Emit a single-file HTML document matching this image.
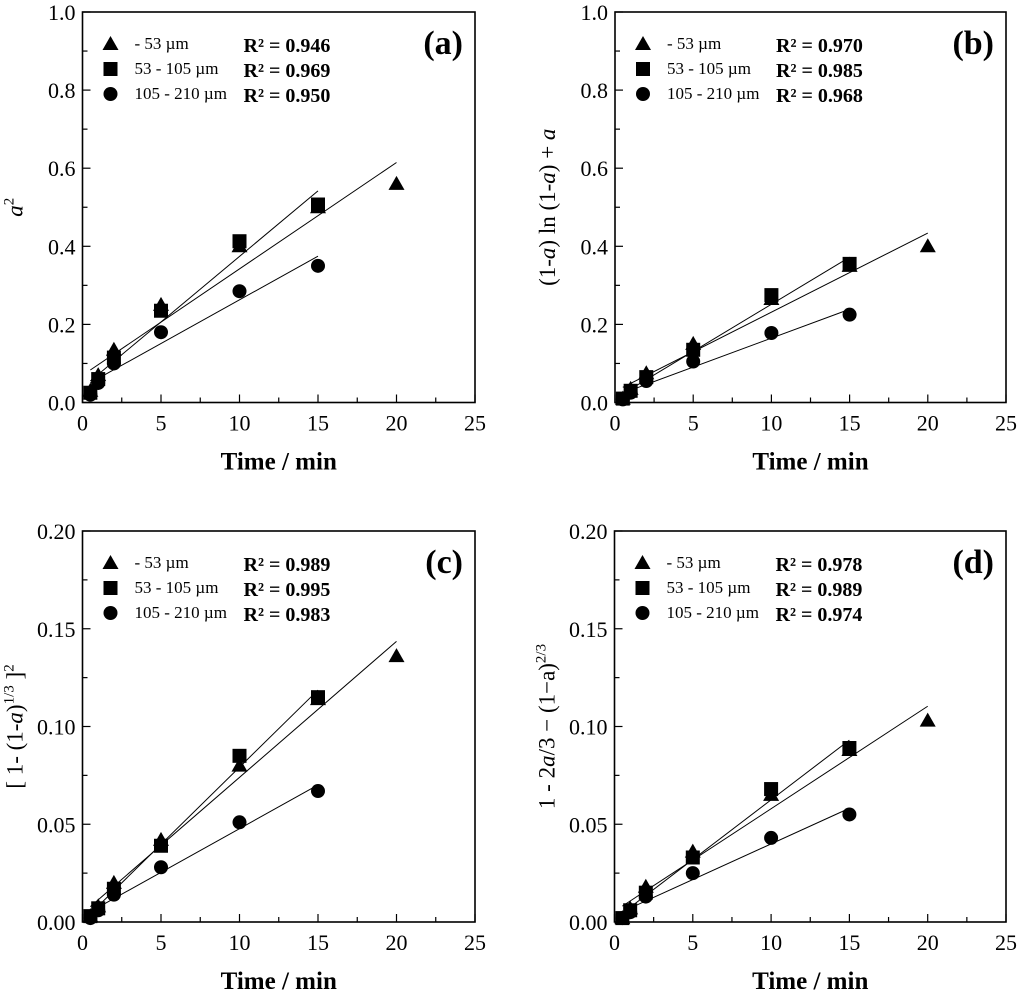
<!DOCTYPE html>
<html><head><meta charset="utf-8"><style>
body{margin:0;background:#fff}
svg{display:block;font-family:"Liberation Serif",serif}
</style></head><body>
<svg id="fig" width="1024" height="993" viewBox="0 0 1024 993"></svg>
<script>
const times=[0.5,1,2,5,10,15,20];
const timesB=[0.5,1,2,5,10,15];
const seriesNames=["- 53 \u00b5m","53 - 105 \u00b5m","105 - 210 \u00b5m"];
const xTicks=[0,5,10,15,20,25];
// panel a
const aTri=[0.03,0.07,0.135,0.25,0.40,0.50,0.56];
const aSq=[0.025,0.06,0.115,0.235,0.413,0.507];
const aCir=[0.02,0.05,0.10,0.18,0.285,0.35];
const aR2=["0.946","0.969","0.950"];
const aYTicks=["0.0","0.2","0.4","0.6","0.8","1.0"];
// panel b
const bTri=[0.01,0.035,0.075,0.15,0.265,0.35,0.40];
const bSq=[0.01,0.03,0.065,0.135,0.275,0.355];
const bCir=[0.008,0.025,0.055,0.105,0.178,0.225];
const bR2=["0.970","0.985","0.968"];
const bYTicks=["0.0","0.2","0.4","0.6","0.8","1.0"];
// panel c
const cTri=[0.003,0.008,0.02,0.042,0.08,0.114,0.136];
const cSq=[0.003,0.007,0.017,0.039,0.085,0.115];
const cCir=[0.002,0.006,0.014,0.028,0.051,0.067];
const cR2=["0.989","0.995","0.983"];
const cYTicks=["0.00","0.05","0.10","0.15","0.20"];
// panel d
const dTri=[0.002,0.007,0.018,0.036,0.065,0.088,0.103];
const dSq=[0.002,0.006,0.015,0.033,0.068,0.089];
const dCir=[0.002,0.005,0.013,0.025,0.043,0.055];
const dR2=["0.978","0.989","0.974"];
const dYTicks=["0.00","0.05","0.10","0.15","0.20"];

const NS="http://www.w3.org/2000/svg";
const svg=document.getElementById('fig');
function mk(tag,attrs,parent){const e=document.createElementNS(NS,tag);for(const k in attrs)e.setAttribute(k,attrs[k]);(parent||svg).appendChild(e);return e;}

function fit(xs,ys){const n=ys.length;let sx=0,sy=0,sxx=0,sxy=0;for(let i=0;i<n;i++){sx+=xs[i];sy+=ys[i];sxx+=xs[i]*xs[i];sxy+=xs[i]*ys[i];}const m=(n*sxy-sx*sy)/(n*sxx-sx*sx);return [m,(sy-m*sx)/n];}

function panel(id,L,T,R,B,ymax,yTicks,tri,sq,cir,r2,ylab){
  const g=mk('g',{});
  
  
  const X=v=>L+v/25*(R-L), Y=v=>B-v/ymax*(B-T);
  const fr=mk('rect',{x:L,y:T,width:R-L,height:B-T,fill:'none',stroke:'#000','stroke-width':1.6},g);
  
  
  for(let k=0;k<=10;k++){const x=X(k*2.5);const len=k%2?5:8;
    mk('line',{x1:x,y1:B,x2:x,y2:B-len,stroke:'#000','stroke-width':1.2},g);}
  xTicks.forEach(t=>{const tx=mk('text',{x:X(t),y:B+28,'font-size':22,'text-anchor':'middle'},g);tx.textContent=t;
    
    });
  const ny=(yTicks.length-1)*2;
  for(let k=0;k<=ny;k++){const v=ymax*k/ny;const y=Y(v);const len=k%2?5:8;
    mk('line',{x1:L,y1:y,x2:L+len,y2:y,stroke:'#000','stroke-width':1.2},g);}
  yTicks.forEach((t,i)=>{const v=ymax*i/(yTicks.length-1);const tx=mk('text',{x:L-7,y:Y(v)+8,'font-size':22,'text-anchor':'end'},g);tx.textContent=t;
    
    });
  const xt=mk('text',{x:(L+R)/2,y:B+67,'font-size':25,'font-weight':'bold','text-anchor':'middle'},g);xt.textContent='Time / min';
  
  
  const yt=mk('text',{transform:`translate(${L-60},${(T+B)/2}) rotate(-90)`,'font-size':23,'text-anchor':'middle'},g);
  yt.innerHTML=ylab;
  
  
  const pl=mk('text',{x:R-12,y:T+42,'font-size':34,'font-weight':'bold','text-anchor':'end'},g);pl.textContent='('+id+')';
  
  
  const sets=[[tri,times,'tri'],[sq,timesB,'sq'],[cir,timesB,'cir']];
  sets.forEach(([ys,xs,shape],si)=>{
    const [m,b]=fit(xs,ys);
    const x0=xs[0],x1=xs[xs.length-1];
    const ln=mk('line',{x1:X(x0),y1:Y(m*x0+b),x2:X(x1),y2:Y(m*x1+b),stroke:'#000','stroke-width':1},g);
    
    
  });
  function marker(shape,cx,cy){
    if(shape==='tri')return mk('polygon',{points:`${cx},${cy-8} ${cx-8},${cy+6} ${cx+8},${cy+6}`,fill:'#000'},g);
    if(shape==='sq')return mk('rect',{x:cx-7,y:cy-7,width:14,height:14,fill:'#000'},g);
    return mk('circle',{cx:cx,cy:cy,r:7,fill:'#000'},g);
  }
  sets.slice().reverse().forEach(([ys,xs,shape])=>{
    ys.forEach((v,i)=>{const p=marker(shape,X(xs[i]),Y(v));
      
      });
  });
  sets.forEach(([ys,xs,shape],i)=>{
    const ly=T+32+i*25;
    const p=marker(shape,L+28,ly);
    
    
    const t=mk('text',{x:L+52,y:ly+5,'font-size':17},g);t.textContent=seriesNames[i];
    
    
    const r=mk('text',{x:L+161,y:ly+8,'font-size':20,'font-weight':'bold'},g);r.textContent='R\u00b2 = '+r2[i];
    
    
  });
}
panel('a',82.5,12,475,402.5,1.0,aYTicks,aTri,aSq,aCir,aR2,'<tspan font-style="italic">a</tspan><tspan dy="-9" font-size="15">2</tspan>');
panel('b',615,12,1006,402.5,1.0,bYTicks,bTri,bSq,bCir,bR2,'(1-<tspan font-style="italic">a</tspan>) ln (1-<tspan font-style="italic">a</tspan>) + <tspan font-style="italic">a</tspan>');
panel('c',82.5,531,475,922,0.20,cYTicks,cTri,cSq,cCir,cR2,'[ 1- (1-<tspan font-style="italic">a</tspan>)<tspan dy="-9" font-size="15">1/3</tspan><tspan dy="9"> ]</tspan><tspan dy="-9" font-size="15">2</tspan>');
panel('d',614.5,531,1006,922,0.20,dYTicks,dTri,dSq,dCir,dR2,'1 - 2<tspan font-style="italic">a</tspan>/3 \u2212 (1\u2212a)<tspan dy="-9" font-size="15">2/3</tspan>');
</script>
</body></html>
